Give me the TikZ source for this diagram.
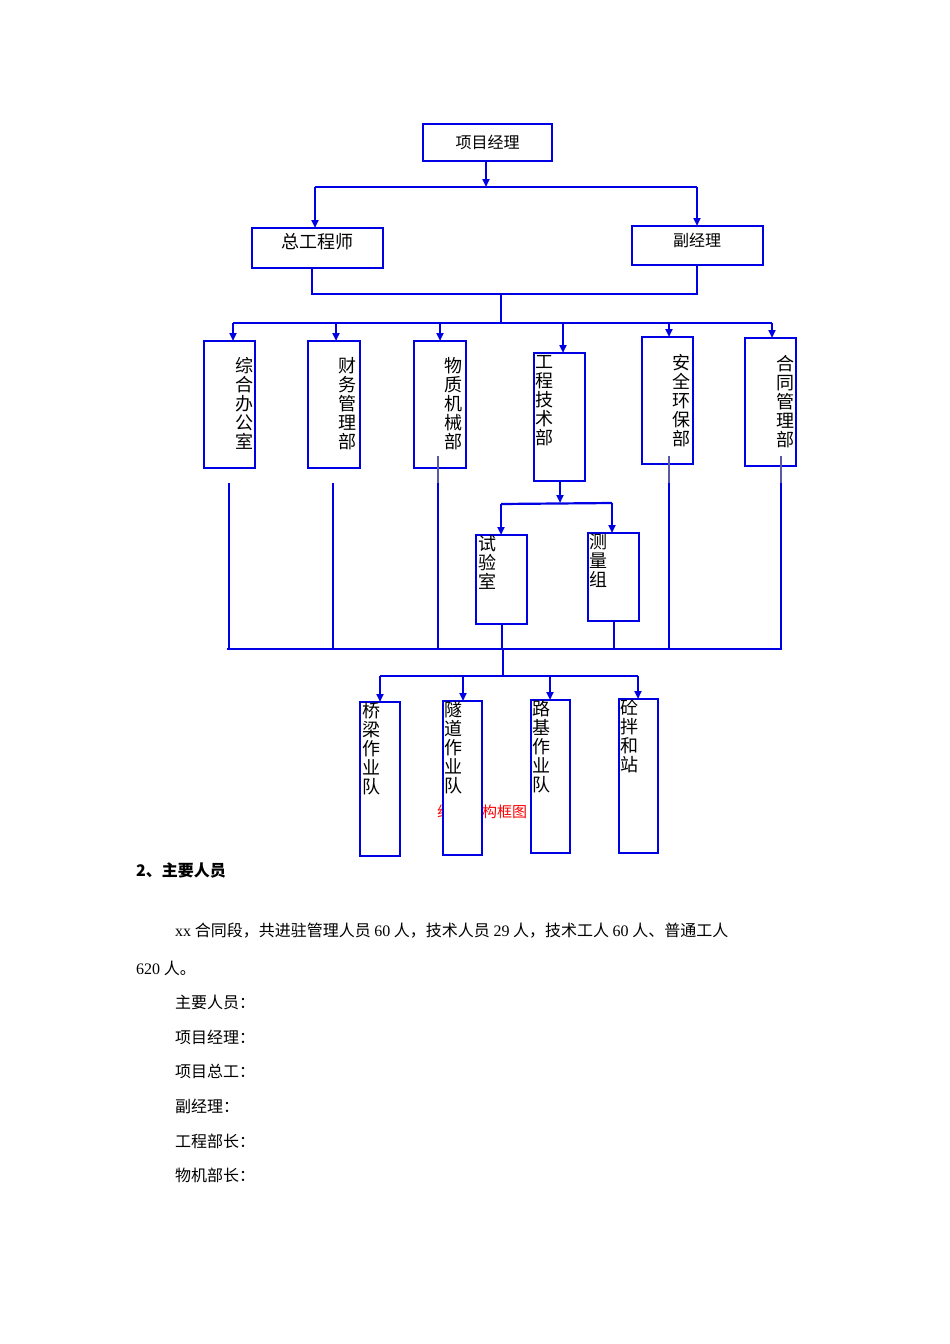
\documentclass[tikz,border=0pt]{standalone}
\usepackage{fontspec}
\setmainfont{Noto Sans CJK SC}
\newfontfamily\latinf{Liberation Serif}
\usetikzlibrary{arrows.meta}
\begin{document}
\begin{tikzpicture}[x=1pt,y=-1pt,
  bx/.style={draw=blue!90!black,line width=2.2pt,fill=white},
  ln/.style={draw=blue!90!black,line width=2.2pt},
  ar/.style={ln,-{Triangle[length=8pt,width=7pt]}},
  vt/.style={font=\fontsize{18}{19}\selectfont,align=center,inner sep=0pt,anchor=north},
  bt/.style={font=\fontsize{16}{18}\selectfont,anchor=west,inner sep=0pt}]
\useasboundingbox[fill=white] (0,0) rectangle (950,1344);
% red caption (behind boxes)
\node[text=red,font=\fontsize{15}{16}\selectfont,anchor=west,inner sep=0pt] (cap) at (437,812) {组织机构框图};
% top
\draw[bx] (423,124) rectangle (552,161); \node[font=\fontsize{16}{18}\selectfont] (pm) at (487.5,142) {项目经理};
\draw[bx] (252,228) rectangle (383,268); \node[font=\fontsize{18}{20}\selectfont] (ce) at (317,242) {总工程师};
\draw[bx] (632,226) rectangle (763,265); \node[font=\fontsize{16}{18}\selectfont] (dm) at (697,240) {副经理};
\draw[ar] (486,161) -- (486,187);
\draw[ln] (315,187) -- (697,187);
\draw[ar] (315,187) -- (315,228);
\draw[ar] (697,187) -- (697,226);
\draw[ln] (312,268) -- (312,294) -- (697,294) -- (697,265);
\draw[ln] (501,294) -- (501,323);
\draw[ln] (233,323) -- (772,323);
% departments
\draw[bx] (204,341) rectangle (255,468);
\draw[bx] (308,341) rectangle (360,468);
\draw[bx] (414,341) rectangle (466,468);
\draw[bx] (534,353) rectangle (585,481);
\draw[bx] (642,337) rectangle (693,464);
\draw[bx] (745,338) rectangle (796,466);
\foreach \x/\y in {233/341,336/341,440/341,563/353,669/337,772/338} \draw[ar] (\x,323) -- (\x,\y);
\node[vt] (d1) at (244,357) {综\\合\\办\\公\\室};
\node[vt] (d2) at (347,357) {财\\务\\管\\理\\部};
\node[vt] (d3) at (453,357) {物\\质\\机\\械\\部};
\node[vt] (d4) at (544,355) {工\\程\\技\\术\\部};
\node[vt] (d5) at (681,354) {安\\全\\环\\保\\部};
\node[vt] (d6) at (785,355) {合\\同\\管\\理\\部};
% down lines
\draw[ln] (229,483) -- (229,650);
\draw[ln] (333,483) -- (333,650);
\foreach \x in {438,669,781} {\draw[gray!70!blue,line width=1.5pt] (\x,456) -- (\x,485); \draw[ln] (\x,483) -- (\x,650);}
\draw[ln] (227,649) -- (782,649);
% sub of eng
\draw[ar] (560,481) -- (560,503);
\draw[ln] (501,504) -- (612,503);
\draw[bx] (476,535) rectangle (527,624);
\draw[bx] (588,533) rectangle (639,621);
\draw[ar] (501,504) -- (501,535);
\draw[ar] (612,503) -- (612,533);
\node[vt] (s1) at (487,535) {试\\验\\室};
\node[vt] (s2) at (598,533) {测\\量\\组};
\draw[ln] (502,624) -- (502,649);
\draw[ln] (614,621) -- (614,649);
% teams
\draw[ln] (503,649) -- (503,676);
\draw[ln] (380,676) -- (638,676);
\draw[bx] (360,702) rectangle (400,856);
\draw[bx] (443,701) rectangle (482,855);
\draw[bx] (531,700) rectangle (570,853);
\draw[bx] (619,699) rectangle (658,853);
\foreach \x/\y in {380/702,463/701,550/700,638/699} \draw[ar] (\x,676) -- (\x,\y);
\node[vt] (t1) at (371,702) {桥\\梁\\作\\业\\队};
\node[vt] (t2) at (453,701) {隧\\道\\作\\业\\队};
\node[vt] (t3) at (541,700) {路\\基\\作\\业\\队};
\node[vt] (t4) at (629,699) {砼\\拌\\和\\站};
% text
\node[bt,font=\fontsize{16}{18}\selectfont\bfseries] (h) at (136,870) {2、主要人员};
\node[bt] (p1) at (175,931) {\latinf xx\normalfont{} 合同段，共进驻管理人员 {\latinf 60} 人，技术人员 {\latinf 29} 人，技术工人 {\latinf 60} 人、普通工人};
\node[bt] (p2) at (136,968) {{\latinf 620} 人。};
\node[bt] (l1) at (175,1002) {主要人员：};
\node[bt] (l2) at (175,1037) {项目经理：};
\node[bt] (l3) at (175,1071) {项目总工：};
\node[bt] (l4) at (175,1106) {副经理：};
\node[bt] (l5) at (175,1141) {工程部长：};
\node[bt] (l6) at (175,1175) {物机部长：};
\end{tikzpicture}
\end{document}
